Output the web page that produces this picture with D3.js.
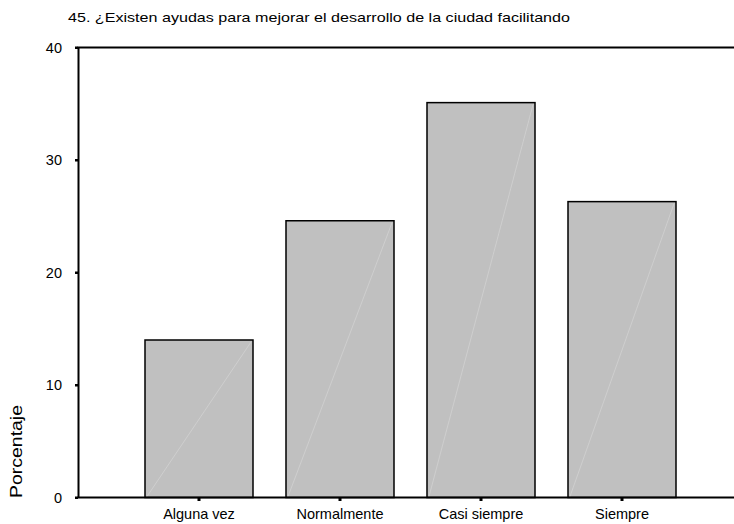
<!DOCTYPE html>
<html>
<head>
<meta charset="utf-8">
<script src="https://cdn.jsdelivr.net/npm/d3@7"></script>
<style>
  body { margin: 0; background: #fff; }
  text { font-family: Arial, "Liberation Sans", sans-serif; fill: #000; }
</style>
</head>
<body>
<div id="chart"></div>
<script>
// values
const categories = ['Alguna vez', 'Normalmente', 'Casi siempre', 'Siempre'];
const percentages = [14.0, 24.6, 35.1, 26.3];
const yTicks = [0, 10, 20, 30, 40];
const title = '45. ¿Existen ayudas para mejorar el desarrollo de la ciudad facilitando';
const yLabel = 'Porcentaje';

const W = 734, H = 524;
const plotLeft = 78.5, plotRight = 734, plotTop = 47.5, plotBottom = 497.5;

const svg = d3.select('#chart').append('svg')
  .attr('width', W)
  .attr('height', H);

const x = d3.scaleBand()
  .domain(categories)
  .range([128.5, 692.5])
  .paddingInner(0.234)
  .paddingOuter(0.117);

const y = d3.scaleLinear()
  .domain([0, 40])
  .range([plotBottom, plotTop]);

// bars
const bars = svg.append('g');
bars.selectAll('rect')
  .data(percentages)
  .join('rect')
  .attr('x', (d, i) => x(categories[i]))
  .attr('y', d => y(d))
  .attr('width', x.bandwidth())
  .attr('height', d => y(0) - y(d))
  .style('fill', '#c0c0c0')
  .style('stroke', '#000')
  .style('stroke-width', 1.5);

// faint diagonal streak inside each bar
bars.selectAll('line')
  .data(percentages)
  .join('line')
  .attr('x1', (d, i) => x(categories[i]) + 2)
  .attr('y1', y(0) - 1)
  .attr('x2', (d, i) => x(categories[i]) + x.bandwidth() - 2)
  .attr('y2', d => y(d) + 2)
  .style('stroke', '#d4d4d4')
  .style('stroke-width', 0.7);

// frame: left axis, top line, bottom axis
svg.append('line')
  .attr('x1', plotLeft).attr('y1', plotTop)
  .attr('x2', plotLeft).attr('y2', plotBottom)
  .style('stroke', '#000').style('stroke-width', 2);
svg.append('line')
  .attr('x1', plotLeft - 1).attr('y1', plotTop)
  .attr('x2', plotRight).attr('y2', plotTop)
  .style('stroke', '#000').style('stroke-width', 2);
svg.append('line')
  .attr('x1', plotLeft - 1).attr('y1', plotBottom)
  .attr('x2', plotRight).attr('y2', plotBottom)
  .style('stroke', '#000').style('stroke-width', 2);

// y ticks
const yAxis = svg.append('g');
yAxis.selectAll('rect')
  .data(yTicks)
  .join('rect')
  .attr('x', plotLeft - 3.5)
  .attr('y', d => y(d) - 1)
  .attr('width', 3)
  .attr('height', 2.5)
  .style('fill', '#000');
yAxis.selectAll('text')
  .data(yTicks)
  .join('text')
  .attr('x', 62)
  .attr('y', d => y(d) + 5)
  .attr('text-anchor', 'end')
  .style('font-size', '14.5px')
  .text(d => d);

// x ticks
const xAxis = svg.append('g');
xAxis.selectAll('rect')
  .data(categories)
  .join('rect')
  .attr('x', d => x(d) + x.bandwidth() / 2 - 1.5)
  .attr('y', plotBottom + 0.5)
  .attr('width', 3)
  .attr('height', 3)
  .style('fill', '#000');
xAxis.selectAll('text')
  .data(categories)
  .join('text')
  .attr('x', d => x(d) + x.bandwidth() / 2)
  .attr('y', 519)
  .attr('text-anchor', 'middle')
  .style('font-size', '14.5px')
  .text(d => d);

// y label
svg.append('text')
  .attr('transform', 'translate(22, 498) rotate(-90)')
  .attr('text-anchor', 'start')
  .attr('textLength', 93)
  .attr('lengthAdjust', 'spacingAndGlyphs')
  .style('font-size', '17px')
  .text(yLabel);

// title
svg.append('text')
  .attr('x', 68)
  .attr('y', 22)
  .attr('textLength', 502)
  .attr('lengthAdjust', 'spacingAndGlyphs')
  .style('font-size', '13.5px')
  .text(title);
</script>
</body>
</html>
